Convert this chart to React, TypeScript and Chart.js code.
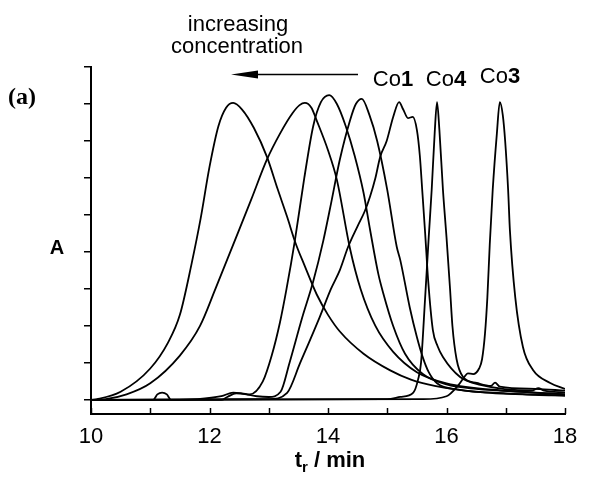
import React, { useEffect, useRef } from "react";
import { Chart, registerables } from "chart.js";

Chart.register(...registerables);

// ---- axis ticks ----
const xTicks = [10, 11, 12, 13, 14, 15, 16, 17, 18];
const xTickLabels = ["10", "", "12", "", "14", "", "16", "", "18"];
const yTicks = [0, 1, 2, 3, 4, 5, 6, 7, 8, 9];

// ---- traces (retention time t_r / min, absorbance A in arbitrary units) ----
const traceA_t = [10, 10.1, 10.5, 11.0, 11.3, 11.5, 11.7, 11.85, 12.0, 12.15, 12.28, 12.4, 12.55, 12.75, 12.97, 13.15, 13.31, 13.45, 13.6, 13.81, 14.0, 14.2, 14.6, 15.05, 15.4, 15.8, 16.5, 17.5, 18];
const traceA_A = [0, 0.02, 0.22, 0.85, 1.55, 2.3, 3.7, 4.9, 6.3, 7.4, 7.9, 8.03, 7.85, 7.35, 6.57, 5.7, 4.95, 4.25, 3.65, 2.85, 2.3, 1.85, 1.25, 0.8, 0.55, 0.38, 0.22, 0.14, 0.12];

const traceB_t = [10, 10.25, 10.6, 11.0, 11.5, 11.84, 12.1, 12.4, 12.7, 12.97, 13.19, 13.4, 13.52, 13.61, 13.72, 13.81, 14.0, 14.15, 14.37, 14.55, 14.8, 15.1, 15.5, 16.0, 17.0, 18];
const traceB_A = [0, 0.02, 0.15, 0.45, 1.2, 2.0, 3.0, 4.2, 5.4, 6.5, 7.2, 7.75, 7.97, 8.03, 7.9, 7.55, 6.75, 5.95, 4.1, 3.0, 2.0, 1.3, 0.75, 0.45, 0.25, 0.15];

const traceC_t = [10, 11.05, 11.12, 11.2, 11.28, 11.35, 11.8, 12.2, 12.4, 12.55, 12.68, 12.9, 13.05, 13.19, 13.3, 13.44, 13.6, 13.75, 13.88, 14.02, 14.15, 14.3, 14.45, 14.6, 14.71, 14.85, 14.93, 15.1, 15.3, 15.6, 16.0, 16.5, 17.5, 18];
const traceC_A = [0, 0, 0.15, 0.2, 0.15, 0, 0.02, 0.1, 0.2, 0.18, 0.15, 0.5, 1.2, 2.1, 3.0, 4.3, 6.0, 7.4, 8.05, 8.24, 8.0, 7.4, 6.6, 5.6, 4.6, 3.4, 2.9, 2.0, 1.25, 0.7, 0.42, 0.3, 0.2, 0.15];

const traceD_t = [10, 12.2, 12.3, 12.45, 12.6, 12.8, 13.0, 13.2, 13.35, 13.56, 13.75, 13.92, 14.05, 14.2, 14.37, 14.47, 14.57, 14.7, 14.83, 15.0, 15.16, 15.22, 15.38, 15.5, 15.6, 15.7, 15.84, 16.2, 17.0, 18];
const traceD_A = [0, 0, 0.08, 0.18, 0.16, 0.1, 0.08, 0.22, 1.0, 2.2, 3.2, 4.3, 5.3, 6.5, 7.55, 8.0, 8.14, 7.7, 7.0, 5.68, 4.14, 3.78, 2.5, 1.7, 1.15, 0.75, 0.45, 0.28, 0.18, 0.12];

const traceCo1_t = [10, 13.0, 13.31, 13.53, 13.86, 14.05, 14.2, 14.34, 14.5, 14.62, 14.71, 14.8, 14.88, 14.99, 15.1, 15.2, 15.27, 15.35, 15.43, 15.5, 15.55, 15.59, 15.64, 15.69, 15.77, 15.85, 15.94, 16.23, 16.57, 17.45, 17.55, 17.65, 18];
const traceCo1_A = [0, 0.02, 0.19, 1.0, 2.24, 3.0, 3.51, 4.14, 4.7, 5.1, 5.5, 6.0, 6.57, 7.0, 7.65, 8.05, 7.85, 7.62, 7.65, 7.3, 6.6, 5.68, 4.5, 3.24, 1.89, 1.45, 1.16, 0.62, 0.41, 0.26, 0.32, 0.25, 0.2];

const traceCo4_t = [10, 15.0, 15.22, 15.44, 15.52, 15.57, 15.64, 15.7, 15.75, 15.8, 15.84, 15.88, 15.94, 16.0, 16.06, 16.1, 16.17, 16.28, 16.51, 16.75, 16.82, 16.9, 17.5, 18];
const traceCo4_A = [0, 0.02, 0.08, 0.2, 0.55, 1.0, 2.78, 4.4, 5.68, 7.2, 8.05, 7.3, 5.68, 4.4, 3.0, 2.0, 1.1, 0.62, 0.46, 0.38, 0.47, 0.36, 0.3, 0.25];

const traceCo3_t = [10, 15.6, 16.0, 16.2, 16.3, 16.36, 16.45, 16.55, 16.6, 16.65, 16.69, 16.73, 16.78, 16.85, 16.9, 16.95, 16.99, 17.04, 17.07, 17.16, 17.29, 17.46, 17.75, 18];
const traceCo3_A = [0, 0.02, 0.1, 0.4, 0.62, 0.72, 0.7, 0.85, 1.1, 1.8, 2.78, 4.2, 5.68, 7.2, 8.05, 7.7, 7.0, 5.68, 4.59, 2.78, 1.43, 0.81, 0.46, 0.3];

const traceTimes = [traceA_t, traceB_t, traceC_t, traceD_t, traceCo1_t, traceCo4_t, traceCo3_t];
const traceValues = [traceA_A, traceB_A, traceC_A, traceD_A, traceCo1_A, traceCo4_A, traceCo3_A];
const traceNames = ["run 1", "run 2", "run 3", "run 4", "Co1", "Co4", "Co3"];

// ---- annotation texts ----
const arrowText = ["increasing", "concentration"];
const peakLabelPrefix = ["Co", "Co", "Co"];
const peakLabelNumber = ["1", "4", "3"];
const panelLabel = "(a)";
const yTitle = "A";
const xTitleMain = "t";
const xTitleSub = "r";
const xTitleRest = " / min";

const SANS = '"Liberation Sans", Arial, Helvetica, sans-serif';
const SERIF = '"Liberation Serif", "Times New Roman", serif';

const annotationPlugin = {
  id: "annotations",
  afterDraw(chart: any) {
    const ctx = chart.ctx as CanvasRenderingContext2D;
    const xs = chart.scales.x;
    const area = chart.chartArea;
    ctx.save();
    // inward x tick marks
    ctx.strokeStyle = "#000";
    ctx.lineWidth = 1.5;
    xTicks.forEach((v) => {
      const px = Math.round(xs.getPixelForValue(v)) + 0.5;
      ctx.beginPath();
      ctx.moveTo(px, area.bottom);
      ctx.lineTo(px, area.bottom - 6);
      ctx.stroke();
    });

    ctx.fillStyle = "#000";
    ctx.textBaseline = "alphabetic";

    // panel label
    ctx.font = `bold 24px ${SERIF}`;
    ctx.textAlign = "left";
    ctx.fillText(panelLabel, 8, 104);

    // y title
    ctx.font = `bold 20px ${SANS}`;
    ctx.textAlign = "center";
    ctx.fillText(yTitle, 57, 254);

    // arrow text
    ctx.font = `22px ${SANS}`;
    ctx.textAlign = "center";
    ctx.fillText(arrowText[0], 238, 31);
    ctx.fillText(arrowText[1], 237, 53);

    // arrow
    ctx.lineWidth = 1.6;
    ctx.beginPath();
    ctx.moveTo(358, 74.5);
    ctx.lineTo(250, 74.5);
    ctx.stroke();
    ctx.beginPath();
    ctx.moveTo(231, 74.5);
    ctx.lineTo(258, 70.5);
    ctx.lineTo(258, 78.5);
    ctx.closePath();
    ctx.fill();

    // peak labels
    const centers = [393, 446, 500];
    const baselines = [86, 86, 83];
    centers.forEach((cx, i) => {
      ctx.font = `22px ${SANS}`;
      const w1 = ctx.measureText(peakLabelPrefix[i]).width;
      ctx.font = `bold 22px ${SANS}`;
      const w2 = ctx.measureText(peakLabelNumber[i]).width;
      const left = cx - (w1 + w2) / 2;
      ctx.textAlign = "left";
      ctx.font = `22px ${SANS}`;
      ctx.fillText(peakLabelPrefix[i], left, baselines[i]);
      ctx.font = `bold 22px ${SANS}`;
      ctx.fillText(peakLabelNumber[i], left + w1, baselines[i]);
    });

    // x title with subscript
    ctx.font = `bold 22px ${SANS}`;
    const wt = ctx.measureText(xTitleMain).width;
    const wr = ctx.measureText(xTitleRest).width;
    ctx.font = `bold 15px ${SANS}`;
    const ws = ctx.measureText(xTitleSub).width;
    const total = wt + ws + wr;
    const x0 = 330 - total / 2;
    ctx.textAlign = "left";
    ctx.font = `bold 22px ${SANS}`;
    ctx.fillText(xTitleMain, x0, 467);
    ctx.font = `bold 15px ${SANS}`;
    ctx.fillText(xTitleSub, x0 + wt, 472);
    ctx.font = `bold 22px ${SANS}`;
    ctx.fillText(xTitleRest, x0 + wt + ws, 467);
    ctx.restore();
  },
};

export default function App() {
  const canvasRef = useRef<HTMLCanvasElement | null>(null);

  useEffect(() => {
    if (!canvasRef.current) return;
    const datasets = traceTimes.map((ts, i) => ({
      label: traceNames[i],
      data: ts.map((t, j) => ({ x: t, y: traceValues[i][j] })),
      borderColor: "#000",
      borderWidth: 1.8,
      pointRadius: 0,
      fill: false,
      cubicInterpolationMode: "monotone" as const,
      borderJoinStyle: "round" as const,
    }));

    const chart = new Chart(canvasRef.current, {
      type: "line",
      data: { datasets },
      options: {
        animation: false,
        responsive: false,
        devicePixelRatio: 1,
        layout: { padding: { left: 0, top: 67, right: 30, bottom: 0 } },
        plugins: { legend: { display: false }, tooltip: { enabled: false } },
        scales: {
          x: {
            type: "linear",
            min: 10,
            max: 18,
            afterBuildTicks: (s: any) => {
              s.ticks = xTicks.map((v) => ({ value: v }));
            },
            afterFit: (s: any) => {
              s.height = 67;
            },
            ticks: {
              autoSkip: false,
              maxRotation: 0,
              padding: 10,
              color: "#000",
              font: { family: SANS, size: 22 },
              callback: (_v: any, i: number) => xTickLabels[i],
            },
            grid: { display: false, drawTicks: false },
            border: { display: true, color: "#000", width: 2 },
          },
          y: {
            type: "linear",
            min: -0.38,
            max: 9,
            afterBuildTicks: (s: any) => {
              s.ticks = yTicks.map((v) => ({ value: v }));
            },
            afterFit: (s: any) => {
              s.width = 91;
            },
            ticks: { display: false },
            grid: {
              display: true,
              drawOnChartArea: false,
              drawTicks: true,
              tickLength: 7,
              color: "#000",
              lineWidth: 1.5,
            },
            border: { display: true, color: "#000", width: 2 },
          },
        },
      },
      plugins: [annotationPlugin],
    });
    return () => chart.destroy();
  }, []);

  return (
    <div style={{ position: "absolute", left: 0, top: 0, width: 595, height: 481, background: "#fff" }}>
      <canvas ref={canvasRef} width={595} height={481} />
    </div>
  );
}
